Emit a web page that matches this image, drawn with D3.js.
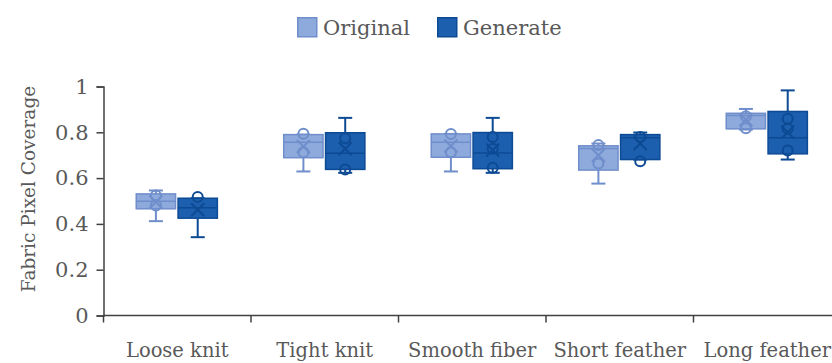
<!DOCTYPE html>
<html>
<head>
<meta charset="utf-8">
<script src="https://cdn.jsdelivr.net/npm/d3@7/dist/d3.min.js"></script>
<style>
  html, body { margin: 0; padding: 0; background: #ffffff; }
  svg { display: block; }
  text { font-family: "DejaVu Serif", serif; fill: #595959; }
</style>
</head>
<body>
<svg id="chart" width="832" height="363"></svg>
<script>
const categories = ["Loose knit", "Tight knit", "Smooth fiber", "Short feather", "Long feather"];
const seriesNames = ["Original", "Generate"];
const yTicks = [0, 0.2, 0.4, 0.6, 0.8, 1];
const yTickLabels = ["0", "0.2", "0.4", "0.6", "0.8", "1"];
const yTitle = "Fabric Pixel Coverage";

// Original series (box-whisker statistics per category)
const origMin    = [0.412, 0.629, 0.629, 0.576, 0.812];
const origQ1     = [0.466, 0.689, 0.691, 0.635, 0.815];
const origMedian = [0.499, 0.757, 0.757, 0.729, 0.873];
const origQ3     = [0.531, 0.790, 0.793, 0.741, 0.883];
const origMax    = [0.546, 0.790, 0.793, 0.751, 0.902];
const origMean   = [0.495, 0.738, 0.740, 0.700, 0.855];
const origPoints = [[0.524, 0.480], [0.794, 0.713], [0.793, 0.713], [0.744, 0.664], [0.818, 0.870]];

// Generate series
const genMin    = [0.342, 0.623, 0.623, 0.681, 0.681];
const genQ1     = [0.425, 0.638, 0.641, 0.681, 0.706];
const genMedian = [0.470, 0.709, 0.710, 0.776, 0.776];
const genQ3     = [0.512, 0.798, 0.799, 0.790, 0.891];
const genMax    = [0.512, 0.863, 0.863, 0.799, 0.983];
const genMean   = [0.462, 0.728, 0.722, 0.751, 0.800];
const genPoints = [[0.518], [0.774, 0.638], [0.779, 0.728, 0.645], [0.780, 0.674], [0.859, 0.815, 0.721]];

const styles = {
  Original: { fill: "#8eaadc", stroke: "#6f8ecb" },
  Generate: { fill: "#1b5fae", stroke: "#0d4a94" }
};

const rows = [];
categories.forEach((c, i) => {
  rows.push({ cat: c, series: "Original", min: origMin[i], q1: origQ1[i], med: origMedian[i], q3: origQ3[i], max: origMax[i], mean: origMean[i], pts: origPoints[i] });
  rows.push({ cat: c, series: "Generate", min: genMin[i], q1: genQ1[i], med: genMedian[i], q3: genQ3[i], max: genMax[i], mean: genMean[i], pts: genPoints[i] });
});

const svg = d3.select("#chart");
const plotLeft = 103.5, plotRight = 841, plotTop = 86.5, plotBottom = 315.5;

const x = d3.scaleBand().domain(categories).range([plotLeft, plotRight]).padding(0);
const bw = x.bandwidth();
const xs = d3.scaleBand().domain(seriesNames).range([bw * 0.222, bw * 0.772]).paddingInner(0.06);
const y = d3.scaleLinear().domain([0, 1]).range([plotBottom, plotTop]);

// Axes
const yAxis = d3.axisLeft(y).tickValues(yTicks).tickFormat((d, i) => yTickLabels[i]).tickSize(7).tickPadding(8);
const gy = svg.append("g").attr("transform", `translate(${plotLeft},0)`).call(yAxis);
gy.select(".domain").attr("stroke", "#404040").attr("stroke-width", 1.5);
gy.selectAll(".tick line").attr("stroke", "#404040").attr("stroke-width", 1.5);
gy.selectAll(".tick text").attr("font-family", "DejaVu Serif").attr("font-size", 21).attr("fill", "#595959");

const xAxisG = svg.append("g").attr("transform", `translate(0,${plotBottom})`);
xAxisG.append("line").attr("x1", plotLeft).attr("x2", plotRight).attr("stroke", "#404040").attr("stroke-width", 1.5);
xAxisG.selectAll("line.tk").data(categories).join("line").attr("class", "tk")
  .attr("x1", d => x(d)).attr("x2", d => x(d)).attr("y1", 0).attr("y2", 7)
  .attr("stroke", "#404040").attr("stroke-width", 1.5);
xAxisG.selectAll("text").data(categories).join("text")
  .attr("x", d => x(d) + bw / 2).attr("y", 41)
  .attr("text-anchor", "middle").attr("font-size", 19.5).text(d => d);

// Y title
svg.append("text").attr("transform", `translate(35,189) rotate(-90)`)
  .attr("text-anchor", "middle").attr("font-size", 18.5).text(yTitle);

// Boxes
const boxW = xs.bandwidth();
const g = svg.append("g");
rows.forEach(r => {
  const st = styles[r.series];
  const x0 = x(r.cat) + xs(r.series);
  const cx = x0 + boxW / 2;
  const grp = g.append("g");
  // whiskers
  grp.append("line").attr("x1", cx).attr("x2", cx).attr("y1", y(r.max)).attr("y2", y(r.q3)).attr("stroke", st.stroke).attr("stroke-width", 2);
  grp.append("line").attr("x1", cx).attr("x2", cx).attr("y1", y(r.q1)).attr("y2", y(r.min)).attr("stroke", st.stroke).attr("stroke-width", 2);
  [r.max, r.min].forEach(v => {
    grp.append("line").attr("x1", cx - 7).attr("x2", cx + 7).attr("y1", y(v)).attr("y2", y(v)).attr("stroke", st.stroke).attr("stroke-width", 2);
  });
  // box
  grp.append("rect").attr("x", x0).attr("width", boxW).attr("y", y(r.q3)).attr("height", y(r.q1) - y(r.q3))
    .attr("fill", st.fill).attr("stroke", st.stroke).attr("stroke-width", 1.5);
  // median
  grp.append("line").attr("x1", x0).attr("x2", x0 + boxW).attr("y1", y(r.med)).attr("y2", y(r.med)).attr("stroke", st.stroke).attr("stroke-width", 1.5);
  // inner points
  r.pts.forEach(p => {
    grp.append("circle").attr("cx", cx).attr("cy", y(p)).attr("r", 5).attr("fill", "none").attr("stroke", st.stroke).attr("stroke-width", 2);
  });
  // mean X
  const ym = y(r.mean), s = 6.5;
  grp.append("path").attr("d", `M${cx - s},${ym - s}L${cx + s},${ym + s}M${cx - s},${ym + s}L${cx + s},${ym - s}`)
    .attr("stroke", st.stroke).attr("stroke-width", 2).attr("fill", "none");
});

// Legend
const legend = svg.append("g");
const legendItems = [{ name: "Original", x: 297 }, { name: "Generate", x: 437 }];
legendItems.forEach(it => {
  const st = styles[it.name];
  legend.append("rect").attr("x", it.x + 0.75).attr("y", 17.75).attr("width", 19).attr("height", 19)
    .attr("fill", st.fill).attr("stroke", st.stroke).attr("stroke-width", 1.5);
  legend.append("text").attr("x", it.x + 26).attr("y", 35).attr("font-size", 21).text(it.name);
});
</script>
</body>
</html>
